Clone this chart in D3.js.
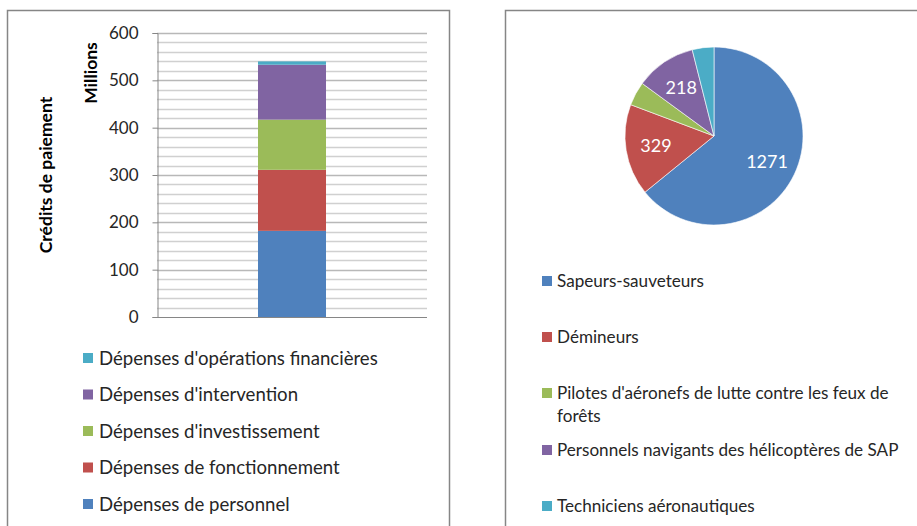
<!DOCTYPE html>
<html>
<head>
<meta charset="utf-8">
<script src="https://cdn.jsdelivr.net/npm/d3@7"></script>
<style>
  body { margin: 0; background: #fff; }
  svg { display: block; font-family: Lato, "Noto Sans", sans-serif; }
</style>
</head>
<body>
<script>
// bar chart data (stacked, bottom to top)
const barCategories = ["Dépenses de personnel", "Dépenses de fonctionnement", "Dépenses d'investissement", "Dépenses d'intervention", "Dépenses d'opérations financières"];
const barValues = [182, 129, 106, 116, 7];
const barColors = ["#4F81BD", "#C0504D", "#9BBB59", "#8064A2", "#4BACC6"];
const yTicks = [0, 100, 200, 300, 400, 500, 600];

// pie data
const pieCategories = ["Sapeurs-sauveteurs", "Démineurs", "Pilotes d'aéronefs de lutte contre les feux de forêts", "Personnels navigants des hélicoptères de SAP", "Techniciens aéronautiques"];
const pieValues = [1271, 329, 86, 218, 78];
const pieShowLabel = [true, true, false, true, false];
const pieColors = ["#4F81BD", "#C0504D", "#9BBB59", "#8064A2", "#4BACC6"];

const W = 917, H = 526;
const svg = d3.select("body").append("svg").attr("width", W).attr("height", H);

// panel borders
svg.append("rect").attr("x", 7.5).attr("y", 10.5).attr("width", 442).attr("height", 530)
  .attr("fill", "none").attr("stroke", "#868686").attr("stroke-width", 1.5);
svg.append("rect").attr("x", 505.5).attr("y", 10.5).attr("width", 430).attr("height", 530)
  .attr("fill", "none").attr("stroke", "#868686").attr("stroke-width", 1.5);

// ---- left: stacked bar ----
const plot = { left: 157, right: 427, top: 33, bottom: 317 };
const y = d3.scaleLinear().domain([0, 600]).range([plot.bottom, plot.top]);
const x = d3.scaleBand().domain(["CP"]).range([plot.left, plot.right]).paddingInner(0).paddingOuter(1.485);

const g = svg.append("g");
// gridlines every 20
g.selectAll("line.grid").data(d3.range(20, 601, 20)).join("line")
  .attr("class", "grid")
  .attr("x1", plot.left).attr("x2", plot.right)
  .attr("y1", d => Math.round(y(d)) + 0.5).attr("y2", d => Math.round(y(d)) + 0.5)
  .attr("stroke", d => d % 100 === 0 ? "#b8b8b8" : "#d0d0d0").attr("stroke-width", 1.5);

let acc = 0;
const stacked = barValues.map((v, i) => { const s = { y0: acc, y1: acc + v, i }; acc += v; return s; });
g.selectAll("rect.bar").data(stacked).join("rect")
  .attr("class", "bar")
  .attr("x", x("CP")).attr("width", x.bandwidth())
  .attr("y", d => y(d.y1)).attr("height", d => y(d.y0) - y(d.y1))
  .attr("fill", d => barColors[d.i]);

// x axis baseline
g.append("line").attr("x1", plot.left).attr("x2", plot.right)
  .attr("y1", plot.bottom + 0.5).attr("y2", plot.bottom + 0.5).attr("stroke", "#868686");

const yAxis = g.append("g").attr("transform", `translate(${plot.left + 0.5},0)`)
  .call(d3.axisLeft(y).tickValues(yTicks).tickSize(5).tickPadding(14));
yAxis.select(".domain").attr("stroke", "#868686");
yAxis.selectAll(".tick line").attr("stroke", "#868686");
yAxis.selectAll(".tick text").attr("font-size", 17).attr("fill", "#262626").attr("font-family", "Lato, sans-serif");

svg.append("text").attr("transform", "translate(97,73) rotate(-90)")
  .attr("text-anchor", "middle").attr("font-weight", "bold").attr("font-size", 17.5).attr("fill", "#000")
  .text("Millions");
svg.append("text").attr("transform", "translate(52,175) rotate(-90)")
  .attr("text-anchor", "middle").attr("font-weight", "bold").attr("font-size", 17.5).attr("fill", "#000")
  .text("Crédits de paiement");

// left legend (reverse order)
const legL = svg.append("g");
const legLItems = barCategories.map((c, i) => ({ c, i })).reverse();
const legLy = d3.scalePoint().domain(legLItems.map(d => d.c)).range([358, 504]);
legL.selectAll("rect").data(legLItems).join("rect")
  .attr("x", 83).attr("y", d => legLy(d.c) - 5).attr("width", 10).attr("height", 10)
  .attr("fill", d => barColors[d.i]);
legL.selectAll("text").data(legLItems).join("text")
  .attr("x", 99).attr("y", d => legLy(d.c)).attr("dy", "0.36em")
  .attr("font-size", 18.6).attr("fill", "#262626").text(d => d.c);

// ---- right: pie ----
const cx = 714, cy = 136, r = 89;
const pie = d3.pie().sort(null).value(d => d);
const arcs = pie(pieValues);
const arc = d3.arc().innerRadius(0).outerRadius(r);
const pg = svg.append("g").attr("transform", `translate(${cx},${cy})`);
pg.selectAll("path").data(arcs).join("path")
  .attr("d", arc).attr("fill", (d, i) => pieColors[i])
  .attr("stroke", "#fff").attr("stroke-width", 0.6);
const labelArc = d3.arc().innerRadius(r * 0.66).outerRadius(r * 0.66);
pg.selectAll("text").data(arcs.filter((d, i) => pieShowLabel[i])).join("text")
  .attr("transform", d => `translate(${labelArc.centroid(d)})`)
  .attr("text-anchor", "middle").attr("dy", "0.36em")
  .attr("font-size", 18).attr("fill", "#fff").text(d => d.data);

// right legend
const legRy = [281, 337, 393, 450, 506];
const legR = svg.append("g");
pieCategories.forEach((c, i) => {
  legR.append("rect").attr("x", 542).attr("y", legRy[i] - 5).attr("width", 10).attr("height", 10).attr("fill", pieColors[i]);
  const t = legR.append("text").attr("x", 557).attr("y", legRy[i]).attr("dy", "0.36em")
    .attr("font-size", 17.1).attr("fill", "#262626");
  if (i === 2) {
    t.append("tspan").attr("x", 557).text("Pilotes d'aéronefs de lutte contre les feux de");
    t.append("tspan").attr("x", 557).attr("dy", "1.35em").text("forêts");
  } else {
    t.text(c);
  }
});
</script>
</body>
</html>
